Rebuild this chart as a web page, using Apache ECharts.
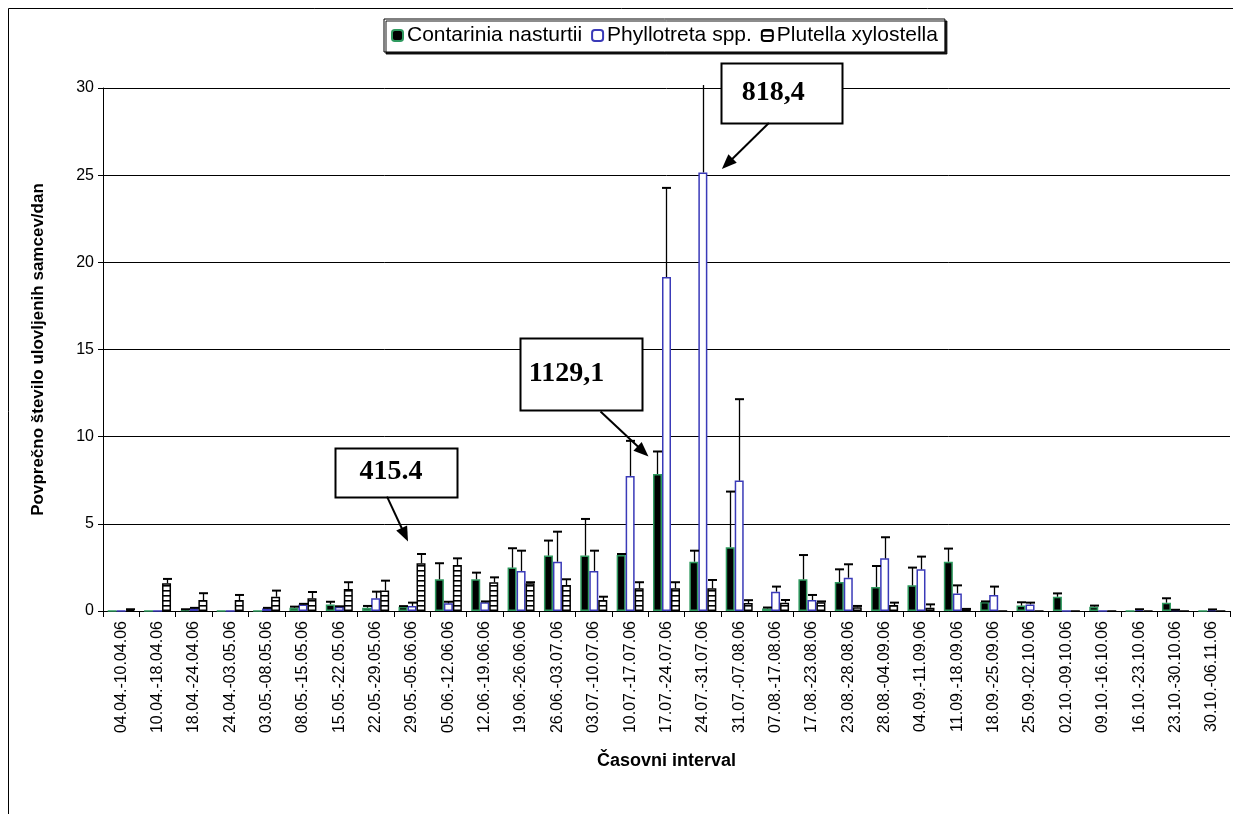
<!DOCTYPE html>
<html>
<head>
<meta charset="utf-8">
<title>Ulov samcev</title>
<script src="https://cdn.jsdelivr.net/npm/echarts@6/dist/echarts.min.js"></script>
<style>
  html, body { margin: 0; padding: 0; background: #fff; }
  #chart { width: 1233px; height: 814px; }
</style>
</head>
<body>
<div id="chart"></div>
<script>
(function() {
  'use strict';

  // časovni intervali (kategorije)
  var categories = [
    '04.04.-10.04.06', '10.04.-18.04.06', '18.04.-24.04.06', '24.04.-03.05.06',
    '03.05.-08.05.06', '08.05.-15.05.06', '15.05.-22.05.06', '22.05.-29.05.06',
    '29.05.-05.06.06', '05.06.-12.06.06', '12.06.-19.06.06', '19.06.-26.06.06',
    '26.06.-03.07.06', '03.07.-10.07.06', '10.07.-17.07.06', '17.07.-24.07.06',
    '24.07.-31.07.06', '31.07.-07.08.06', '07.08.-17.08.06', '17.08.-23.08.06',
    '23.08.-28.08.06', '28.08.-04.09.06', '04.09.-11.09.06', '11.09.-18.09.06',
    '18.09.-25.09.06', '25.09.-02.10.06', '02.10.-09.10.06', '09.10.-16.10.06',
    '16.10.-23.10.06', '23.10.-30.10.06', '30.10.-06.11.06'
  ];

  var seriesNames = ['Contarinia nasturtii', 'Phyllotreta spp.', 'Plutella xylostella'];

  // povprečja
  var contarinia = [0, 0, 0.05, 0, 0, 0.19, 0.38, 0.19, 0.25, 1.82, 1.82, 2.49, 3.18, 3.18, 3.21, 7.86,
    2.83, 3.66, 0.15, 1.82, 1.66, 1.38, 1.47, 2.83, 0.52, 0.31, 0.82, 0.25, 0, 0.48, 0];
  var phyllotreta = [0, 0, 0.15, 0, 0.15, 0.38, 0.25, 0.73, 0.29, 0.44, 0.5, 2.3, 2.83, 2.3, 7.75, 19.16,
    25.16, 7.48, 1.11, 0.63, 1.91, 3.02, 2.39, 1.01, 0.92, 0.38, 0, 0, 0.08, 0.05, 0.07];
  var plutella = [0.05, 1.59, 0.63, 0.63, 0.82, 0.73, 1.26, 1.17, 2.74, 2.64, 1.65, 1.59, 1.49, 0.63, 1.3, 1.3,
    1.3, 0.46, 0.48, 0.5, 0.21, 0.34, 0.19, 0.1, 0, 0, 0, 0, 0, 0, 0];

  // standardne napake (samo navzgor)
  var contariniaErr = [0, 0, 0.05, 0, 0, 0.06, 0.15, 0.1, 0.03, 0.92, 0.38, 1.11, 0.86, 2.1, 0.06, 1.29,
    0.63, 3.19, 0.05, 1.39, 0.73, 1.2, 1.02, 0.75, 0.03, 0.19, 0.19, 0.06, 0, 0.25, 0];
  var phyllotretaErr = [0, 0, 0.03, 0, 0.03, 0.03, 0.02, 0.38, 0.19, 0.09, 0.05, 1.16, 1.72, 1.16, 2.01, 5.11,
    5.2, 4.67, 0.29, 0.29, 0.77, 1.21, 0.73, 0.46, 0.48, 0.1, 0, 0, 0.02, 0.02, 0.02];
  var plutellaErr = [0.05, 0.25, 0.39, 0.29, 0.35, 0.36, 0.39, 0.57, 0.53, 0.38, 0.28, 0.06, 0.33, 0.19, 0.35, 0.35,
    0.48, 0.16, 0.15, 0.05, 0.08, 0.14, 0.19, 0.02, 0, 0, 0, 0, 0, 0, 0];

  // opombe s puščicami
  var calloutTexts = ['415.4', '1129,1', '818,4'];
  var calloutCats = [8, 15, 16];
  var calloutVals = [3.98, 8.86, 25.35];

  var FONT = '"Liberation Sans", Arial, sans-serif';
  var SERIF = '"Liberation Serif", "Times New Roman", serif';
  var YMAX = 30;
  var BAR_W = 9;

  // vzorec s horizontalnimi črtami za Plutella
  function stripes() {
    var c = document.createElement('canvas');
    c.width = 6;
    c.height = 5;
    var ctx = c.getContext('2d');
    ctx.fillStyle = '#fff';
    ctx.fillRect(0, 0, 6, 5);
    ctx.fillStyle = '#000';
    ctx.fillRect(0, 0, 6, 1);
    ctx.fillStyle = '#666';
    ctx.fillRect(0, 1, 6, 1);
    return c;
  }

  function errSeries(name, vals, errs, offset) {
    var data = [];
    for (var i = 0; i < vals.length; i++) {
      if (vals[i] > 0 || errs[i] > 0) {
        data.push([i, vals[i], vals[i] + errs[i]]);
      }
    }
    return {
      name: name + ' err',
      type: 'custom',
      z: 5,
      silent: true,
      data: data,
      renderItem: function(params, api) {
        var i = api.value(0);
        var hiVal = api.value(2);
        var clipped = hiVal > YMAX + 0.17;
        var lo = api.coord([i, api.value(1)]);
        var hi = api.coord([i, clipped ? YMAX + 0.17 : hiVal]);
        var x = Math.round(lo[0] + offset) + 0.5;
        var kids = [{
          type: 'line',
          shape: { x1: x, y1: lo[1], x2: x, y2: hi[1] },
          style: { stroke: '#000', lineWidth: 1.3 }
        }];
        if (!clipped) {
          kids.push({
            type: 'line',
            shape: { x1: x - 4.5, y1: hi[1], x2: x + 4.5, y2: hi[1] },
            style: { stroke: '#000', lineWidth: 2 }
          });
        }
        return { type: 'group', children: kids };
      }
    };
  }

  var chart = echarts.init(document.getElementById('chart'), null, { renderer: 'canvas' });

  var option = {
    animation: false,
    backgroundColor: '#fff',
    textStyle: { fontFamily: FONT },
    legend: {
      data: seriesNames,
      top: 19,
      left: 384,
      itemWidth: 11,
      itemHeight: 11,
      itemGap: 9,
      padding: [6, 7, 6, 7],
      borderColor: '#000',
      borderWidth: 1,
      backgroundColor: '#fff',
      shadowColor: 'rgba(0,0,0,0.9)',
      shadowOffsetX: 2,
      shadowOffsetY: 2,
      textStyle: { fontSize: 21, color: '#000', fontFamily: FONT, padding: [0, 0, 0, -1] },
      selectedMode: false
    },
    grid: {
      left: 103,
      right: 3,
      top: 88,
      bottom: 203,
      containLabel: false
    },
    xAxis: {
      type: 'category',
      data: categories,
      boundaryGap: true,
      name: 'Časovni interval',
      nameLocation: 'middle',
      nameGap: 141,
      nameTextStyle: { fontSize: 18, fontWeight: 'bold', color: '#000', fontFamily: FONT },
      axisLine: { lineStyle: { color: '#000', width: 1 } },
      axisTick: { show: true, length: 6, lineStyle: { color: '#000' } },
      axisLabel: {
        rotate: 90,
        interval: 0,
        fontSize: 16,
        color: '#000',
        margin: 10,
        fontFamily: FONT
      },
      splitLine: { show: false }
    },
    yAxis: {
      type: 'value',
      min: 0,
      max: YMAX,
      interval: 5,
      name: 'Povprečno število ulovljenih samcev/dan',
      nameLocation: 'middle',
      nameGap: 56,
      nameRotate: 90,
      nameTextStyle: { fontSize: 17, fontWeight: 'bold', color: '#000', fontFamily: FONT },
      axisLine: { show: true, lineStyle: { color: '#000', width: 1 } },
      axisTick: { show: true, length: 5, lineStyle: { color: '#000' } },
      axisLabel: { fontSize: 16, color: '#000', margin: 9, fontFamily: FONT },
      splitLine: { show: true, lineStyle: { color: '#000', width: 1 } }
    },
    series: [
      {
        name: seriesNames[0],
        type: 'bar',
        data: contarinia,
        barWidth: BAR_W,
        barGap: '0%',
        itemStyle: { color: '#000', borderColor: '#2f9a5f', borderWidth: 1.5 }
      },
      {
        name: seriesNames[1],
        type: 'bar',
        data: phyllotreta,
        barWidth: BAR_W,
        barGap: '0%',
        itemStyle: { color: '#fff', borderColor: '#3a3ab8', borderWidth: 1.5 }
      },
      {
        name: seriesNames[2],
        type: 'bar',
        data: plutella,
        barWidth: BAR_W,
        barGap: '0%',
        itemStyle: {
          color: { image: stripes(), repeat: 'repeat' },
          borderColor: '#000',
          borderWidth: 1.5
        }
      },
      errSeries(seriesNames[0], contarinia, contariniaErr, -BAR_W),
      errSeries(seriesNames[1], phyllotreta, phyllotretaErr, 0),
      errSeries(seriesNames[2], plutella, plutellaErr, BAR_W)
    ]
  };

  chart.setOption(option);

  // škatle z besedilom in puščice, vezane na vrednosti
  // [odmik konice x, škatla x, y, širina, višina, začetek puščice x, y, odmik besedila x]
  var boxLayout = [
    [-4, -73, -94, 122, 49, -21, -45, -5],
    [-18, -128, -119, 122, 72, -48, -45, -15],
    [19, -1, -106, 121, 60, 47, -46, -8]
  ];

  function arrowHead(tx, ty, fx, fy) {
    var a = Math.atan2(ty - fy, tx - fx);
    var len = 15, half = 6;
    var bx = tx - len * Math.cos(a), by = ty - len * Math.sin(a);
    return [
      [tx, ty],
      [bx + half * Math.sin(a), by - half * Math.cos(a)],
      [bx - half * Math.sin(a), by + half * Math.cos(a)]
    ];
  }

  var graphics = [{
    type: 'rect',
    shape: { x: 8.5, y: 8.5, width: 1400, height: 1000 },
    style: { fill: null, stroke: '#000', lineWidth: 1 },
    silent: true,
    z: 0
  }];

  for (var k = 0; k < calloutTexts.length; k++) {
    var p = chart.convertToPixel({ gridIndex: 0 }, [calloutCats[k], calloutVals[k]]);
    var L = boxLayout[k];
    var tx = p[0] + L[0], ty = p[1];
    var bx = tx + L[1], by = ty + L[2];
    var fx = tx + L[5], fy = ty + L[6];
    graphics.push({
      type: 'rect',
      shape: { x: Math.round(bx) + 0.5, y: Math.round(by) + 0.5, width: L[3], height: L[4] },
      style: { fill: '#fff', stroke: '#000', lineWidth: 2 },
      z: 100
    });
    graphics.push({
      type: 'text',
      x: bx + L[3] / 2 + L[7],
      y: by + L[4] / 2,
      style: {
        text: calloutTexts[k],
        font: 'bold 28px ' + SERIF,
        fill: '#000',
        align: 'center',
        verticalAlign: 'middle'
      },
      z: 101
    });
    var head = arrowHead(tx, ty, fx, fy);
    var ang = Math.atan2(ty - fy, tx - fx);
    graphics.push({
      type: 'line',
      shape: { x1: fx, y1: fy, x2: tx - 12 * Math.cos(ang), y2: ty - 12 * Math.sin(ang) },
      style: { stroke: '#000', lineWidth: 2 },
      z: 100
    });
    graphics.push({
      type: 'polygon',
      shape: { points: head },
      style: { fill: '#000' },
      z: 100
    });
  }

  chart.setOption({ graphic: graphics });
}());
</script>
</body>
</html>
